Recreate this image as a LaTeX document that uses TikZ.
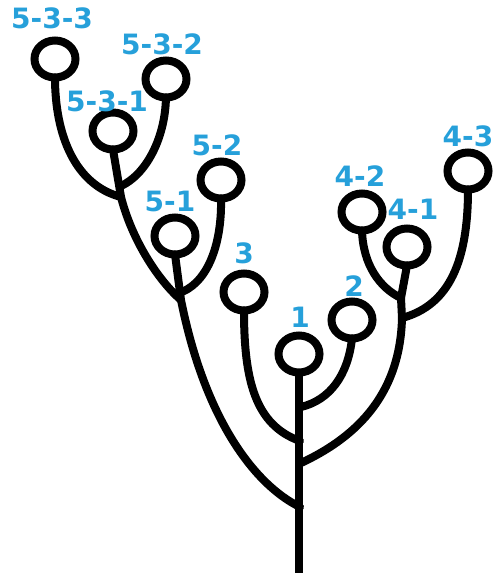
\documentclass[tikz,border=0pt]{standalone}
\usepackage{fontspec}
\setmainfont{DejaVu Sans}
\usetikzlibrary{shapes.geometric}
\definecolor{lblue}{RGB}{38,160,218}
\begin{document}
\begin{tikzpicture}[x=1pt,y=-1pt,
  bud/.style={ellipse,draw=black,line width=8pt,inner sep=0pt,outer sep=0pt,minimum width=41pt,minimum height=37pt},
  lbl/.style={text=lblue,inner sep=0pt,font=\fontsize{28}{28}\selectfont\bfseries},
  stem/.style={draw=black,line width=8pt,line cap=round,line join=round}]
\useasboundingbox (0,0) rectangle (496,573);
% buds
\node[bud] (c533) at (55,59) {};
\node[bud] (c532) at (166,79) {};
\node[bud] (c531) at (113,131) {};
\node[bud] (c52) at (221,180) {};
\node[bud] (c51) at (175,236) {};
\node[bud] (c3) at (244,292) {};
\node[bud] (c1) at (299,354) {};
\node[bud] (c2) at (352,320) {};
\node[bud] (c42) at (362,212) {};
\node[bud] (c41) at (407,247) {};
\node[bud] (c43) at (468,171) {};
% labels
\node[lbl] (l533) at (52,18) {5-3-3};
\node[lbl] (l532) at (162,44) {5-3-2};
\node[lbl] (l531) at (107,101) {5-3-1};
\node[lbl] (l52) at (217,145) {5-2};
\node[lbl] (l51) at (170,201) {5-1};
\node[lbl] (l3) at (244,253) {3};
\node[lbl] (l1) at (300,317) {1};
\node[lbl] (l2) at (354,286) {2};
\node[lbl] (l42) at (360,176) {4-2};
\node[lbl] (l41) at (413,209) {4-1};
\node[lbl] (l43) at (468,136) {4-3};
% junctions
\coordinate (j53) at (121,197);
\coordinate (j532) at (121,186);
\coordinate (j5top) at (181,300);
\coordinate (j52) at (182,292);
\coordinate (j5) at (300,507);
\coordinate (j3) at (300,441);
\coordinate (j12) at (301,407);
\coordinate (j4) at (301,463);
\coordinate (j42) at (401,298);
\coordinate (j43) at (402,318);
\coordinate (bot) at (299,585);
% trunk
\draw[stem,line width=8.5pt,line cap=butt] (c1.south) -- (bot);
% branch 2 and 3
\draw[stem] (c2.south) .. controls (348,375) and (330,400) .. (j12);
\draw[stem] (c3.south) .. controls (244,380) and (255,425) .. (j3);
% branch 4
\draw[stem] (c41.south) -- (j42) -- (j43) .. controls (400,400) and (350,440) .. (j4);
\draw[stem] (c42.south) .. controls (363,265) and (380,288) .. (j42);
\draw[stem] (c43.south) .. controls (468,260) and (450,305) .. (j43);
% branch 5
\draw[stem] (c51.south) -- (j5top) .. controls (205,420) and (255,485) .. (j5);
\draw[stem] (c52.south) .. controls (222,240) and (210,280) .. (j52);
\draw[stem] (j53) .. controls (132,240) and (158,280) .. (j5top);
\draw[stem] (c531.south) -- (j53);
\draw[stem] (c532.south) .. controls (165,140) and (145,175) .. (j532);
\draw[stem] (c533.south) .. controls (55,135) and (75,185) .. (j53);
\end{tikzpicture}
\end{document}
